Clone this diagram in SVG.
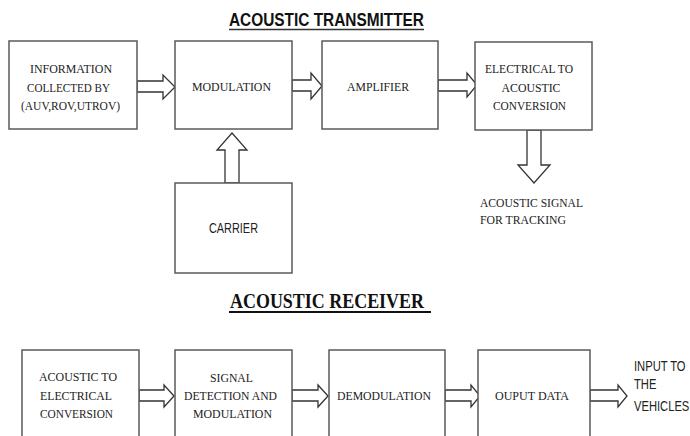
<svg xmlns="http://www.w3.org/2000/svg" width="690" height="436" viewBox="0 0 690 436">
<style>
.box{fill:#fff;stroke:#5a5a5a;stroke-width:1.5}
.arr{fill:#fff;stroke:#333;stroke-width:1.3;stroke-linejoin:miter}
.t{font-family:"Liberation Serif","Times New Roman",serif;font-size:13px;fill:#222;text-anchor:middle}
.tl{font-family:"Liberation Serif","Times New Roman",serif;font-size:13px;fill:#222}
.s{font-family:"Liberation Sans",Arial,sans-serif;fill:#222}
.h1{font-family:"Liberation Sans",Arial,sans-serif;font-weight:bold;font-size:18px;fill:#111}
.h2{font-family:"Liberation Serif","Times New Roman",serif;font-weight:bold;font-size:21px;fill:#111}
</style>
<rect width="690" height="436" fill="#fff"/>
<g id="title-transmitter">
<text class="h1" x="229" y="26" textLength="195" lengthAdjust="spacingAndGlyphs">ACOUSTIC TRANSMITTER</text>
<line x1="229" y1="29.5" x2="424" y2="29.5" stroke="#333" stroke-width="1.5"/>
</g>
<g id="title-receiver">
<text class="h2" x="230" y="308" textLength="194" lengthAdjust="spacingAndGlyphs">ACOUSTIC RECEIVER</text>
<line x1="229" y1="312" x2="431" y2="312" stroke="#111" stroke-width="2"/>
</g>
<g id="connectors">
<polygon class="arr" points="137,81 163,81 163,75 175,87 163,99 163,92 137,92"/>
<polygon class="arr" points="292,80 311,80 311,73 322,86 311,99 311,91 292,91"/>
<polygon class="arr" points="438,80 467,80 467,73 477,85 467,97 467,91 438,91"/>
<polygon class="arr" points="225,183 225,150 217,150 232,133 247,150 239,150 239,183"/>
<polygon class="arr" points="527,130 527,165 518,165 534,183 550,165 541,165 541,130"/>
<polygon class="arr" points="139,390 164,390 164,385 174,396 164,407 164,401 139,401"/>
<polygon class="arr" points="292,390 318,390 318,385 328,396 318,407 318,401 292,401"/>
<polygon class="arr" points="445,390 471,390 471,385 480,396 471,407 471,401 445,401"/>
<polygon class="arr" points="590,390 618,390 618,385 627,396 618,407 618,401 590,401"/>
</g>
<g id="n-information">
<rect class="box" x="9" y="41" width="128" height="88"/>
<text class="t" x="71" y="73" textLength="82" lengthAdjust="spacingAndGlyphs">INFORMATION</text>
<text class="t" x="68.5" y="92" textLength="83" lengthAdjust="spacingAndGlyphs">COLLECTED BY</text>
<text class="t" x="70.5" y="110" textLength="99" lengthAdjust="spacingAndGlyphs">(AUV,ROV,UTROV)</text>
</g>
<g id="n-modulation">
<rect class="box" x="175" y="41" width="117" height="88"/>
<text class="t" x="231.5" y="91" textLength="79" lengthAdjust="spacingAndGlyphs">MODULATION</text>
</g>
<g id="n-amplifier">
<rect class="box" x="322" y="41" width="116" height="88"/>
<text class="t" x="378" y="91" textLength="62" lengthAdjust="spacingAndGlyphs">AMPLIFIER</text>
</g>
<g id="n-elec-to-acoustic">
<rect class="box" x="475" y="42" width="117" height="88"/>
<text class="t" x="529" y="73" textLength="88" lengthAdjust="spacingAndGlyphs">ELECTRICAL TO</text>
<text class="t" x="531" y="92" textLength="59" lengthAdjust="spacingAndGlyphs">ACOUSTIC</text>
<text class="t" x="529.5" y="110" textLength="73" lengthAdjust="spacingAndGlyphs">CONVERSION</text>
</g>
<g id="n-carrier">
<rect class="box" x="175" y="183" width="117" height="90"/>
<text class="s" x="209" y="233" font-size="14" textLength="49" lengthAdjust="spacingAndGlyphs">CARRIER</text>
</g>
<g id="n-acoustic-signal">
<text class="tl" x="480" y="207" textLength="103" lengthAdjust="spacingAndGlyphs">ACOUSTIC SIGNAL</text>
<text class="tl" x="480" y="224" textLength="86" lengthAdjust="spacingAndGlyphs">FOR TRACKING</text>
</g>
<g id="n-acoustic-to-elec">
<rect class="box" x="22" y="350" width="117" height="100"/>
<text class="t" x="78" y="381" textLength="78" lengthAdjust="spacingAndGlyphs">ACOUSTIC TO</text>
<text class="t" x="76" y="400" textLength="72" lengthAdjust="spacingAndGlyphs">ELECTRICAL</text>
<text class="t" x="76.5" y="418" textLength="73" lengthAdjust="spacingAndGlyphs">CONVERSION</text>
</g>
<g id="n-signal-detection">
<rect class="box" x="175" y="350" width="117" height="100"/>
<text class="t" x="231.5" y="382" textLength="43" lengthAdjust="spacingAndGlyphs">SIGNAL</text>
<text class="t" x="230.5" y="400" textLength="93" lengthAdjust="spacingAndGlyphs">DETECTION AND</text>
<text class="t" x="232.5" y="418" textLength="79" lengthAdjust="spacingAndGlyphs">MODULATION</text>
</g>
<g id="n-demodulation">
<rect class="box" x="329" y="350" width="116" height="100"/>
<text class="t" x="384" y="400" textLength="94" lengthAdjust="spacingAndGlyphs">DEMODULATION</text>
</g>
<g id="n-output-data">
<rect class="box" x="478" y="350" width="112" height="100"/>
<text class="t" x="532" y="400" textLength="74" lengthAdjust="spacingAndGlyphs">OUPUT DATA</text>
</g>
<g id="n-input-vehicles">
<text class="s" transform="translate(634,371) scale(0.8,1)" font-size="14">INPUT TO</text>
<text class="s" transform="translate(634,389) scale(0.8,1)" font-size="14">THE</text>
<text class="s" transform="translate(634,411) scale(0.8,1)" font-size="14">VEHICLES</text>
</g>
</svg>
